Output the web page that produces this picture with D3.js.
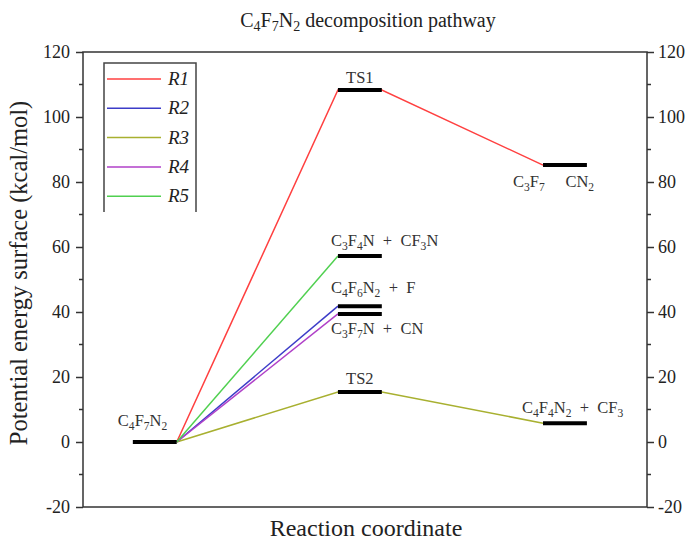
<!DOCTYPE html>
<html><head><meta charset="utf-8">
<script src="https://cdn.jsdelivr.net/npm/d3@7"></script>
<style>body{margin:0;background:#fff}svg{display:block} text{font-family:"Liberation Serif";}</style>
</head><body>
<script>
// ---- data ----
const levelNames = ["C_4F_7N_2", "TS1", "C_3F_7     CN_2", "C_3F_4N  +  CF_3N", "C_4F_6N_2  +  F", "C_3F_7N  +  CN", "TS2", "C_4F_4N_2  +  CF_3"];
const levelStage = [1, 2, 3, 2, 2, 2, 2, 3];
const levelEnergy = [0, 108.3, 85.2, 57.2, 41.8, 39.4, 15.4, 5.8];
const seriesNames = ["R1", "R2", "R3", "R4", "R5"];
const seriesPaths = [[0, 1, 2], [0, 4], [0, 6, 7], [0, 5], [0, 3]];
const seriesColors = ["#ff4040", "#3c3cc8", "#a8b030", "#b040c8", "#50d050"];
const yTicks = [-20, 0, 20, 40, 60, 80, 100, 120];

// ---- layout ----
const W = 693, H = 545;
const m = {left: 83, right: 647, top: 52, bottom: 507};
const x = d3.scaleLinear().domain([0.65, 3.4]).range([m.left, m.right]);
const y = d3.scaleLinear().domain([-20, 120]).range([m.bottom, m.top]);
const halfW = 0.107;
const serif = '"Liberation Serif"';

const svg = d3.select("body").append("svg").attr("width", W).attr("height", H);

function richText(sel, s) {
  const parts = s.split(/(_\d)/);
  parts.forEach(p => {
    if (!p) return;
    if (p[0] === "_") sel.append("tspan").attr("baseline-shift", "-30%").attr("font-size", "0.7em").text(p.slice(1));
    else sel.append("tspan").style("white-space", "pre").text(p);
  });
}

// axes
const axisColor = "#333";
const minor = d3.range(-20, 121, 10).filter(v => v % 20 !== 0);
const fmt = d => String(d);
const leftAxis = d3.axisLeft(y).tickValues(yTicks).tickSize(7).tickPadding(6).tickFormat(fmt);
const rightAxis = d3.axisRight(y).tickValues(yTicks).tickSize(7).tickPadding(4).tickFormat(fmt);
function styleAxis(g) {
  g.attr("font-family", null);
  g.select(".domain").remove();
  g.selectAll("line").attr("stroke", axisColor).attr("stroke-width", 1.5);
  g.selectAll("text").style("font-family", serif).style("font-size", "18px").attr("fill", "#222");
}
const gl = svg.append("g").attr("transform", `translate(${m.left},0)`).call(leftAxis).call(styleAxis);
const gr = svg.append("g").attr("transform", `translate(${m.right},0)`).call(rightAxis).call(styleAxis);
gl.selectAll(".minor").data(minor).enter().append("line").attr("x1", -4).attr("x2", 0)
  .attr("y1", d => y(d)).attr("y2", d => y(d)).attr("stroke", axisColor).attr("stroke-width", 1.5);
gr.selectAll(".minor").data(minor).enter().append("line").attr("x1", 0).attr("x2", 4)
  .attr("y1", d => y(d)).attr("y2", d => y(d)).attr("stroke", axisColor).attr("stroke-width", 1.5);
svg.append("rect").attr("x", m.left).attr("y", m.top).attr("width", m.right - m.left)
  .attr("height", m.bottom - m.top).attr("fill", "none").attr("stroke", axisColor).attr("stroke-width", 1.5);

// connecting lines
seriesPaths.forEach((path, si) => {
  const pts = [];
  path.forEach((li, k) => {
    const s = levelStage[li], e = levelEnergy[li];
    if (k > 0) pts.push([x(s - halfW), y(e)]);
    if (k < path.length - 1) pts.push([x(s + halfW), y(e)]);
  });
  svg.append("path").attr("d", d3.line()(pts)).attr("fill", "none")
    .attr("stroke", seriesColors[si]).attr("stroke-width", 1.5);
});

// level bars
svg.selectAll(".lvl").data(levelNames).enter().append("line")
  .attr("x1", (d, i) => x(levelStage[i] - halfW)).attr("x2", (d, i) => x(levelStage[i] + halfW))
  .attr("y1", (d, i) => y(levelEnergy[i])).attr("y2", (d, i) => y(levelEnergy[i]))
  .attr("stroke", "#000").attr("stroke-width", 4);

// level labels: [dx from bar left, dy from bar, anchor]
const labelPlace = [[-15, -16, "start"], [null, -7, "middle"], [-30, 22, "start"], [-7, -10, "start"],
  [-7, -13, "start"], [-7, 20, "start"], [null, -8, "middle"], [-21, -10, "start"]];
levelNames.forEach((n, i) => {
  const [dx, dy, anchor] = labelPlace[i];
  const bx = dx === null ? x(levelStage[i]) : x(levelStage[i] - halfW) + dx;
  const t = svg.append("text").attr("x", bx).attr("y", y(levelEnergy[i]) + dy)
    .attr("text-anchor", anchor).style("font-size", "16.5px").attr("fill", "#333");
  richText(t, n);
});

// legend
const lg = svg.append("g");
lg.append("path").attr("d", "M104,212V63H196V212").attr("fill", "none").attr("stroke", "#444").attr("stroke-width", 1.5);
seriesNames.forEach((n, i) => {
  const ly = 79 + i * 29.3;
  lg.append("line").attr("x1", 107).attr("x2", 161).attr("y1", ly).attr("y2", ly)
    .attr("stroke", seriesColors[i]).attr("stroke-width", 1.5);
  lg.append("text").attr("x", 168).attr("y", ly + 6).style("font-size", "19px").style("font-style", "italic")
    .attr("fill", "#222").text(n);
});

// titles
const title = svg.append("text").attr("x", 368).attr("y", 27).attr("text-anchor", "middle")
  .style("font-size", "20px").attr("fill", "#222");
richText(title, "C_4F_7N_2 decomposition pathway");
svg.append("text").attr("x", 366).attr("y", 536).attr("text-anchor", "middle").style("font-size", "24px")
  .attr("fill", "#222").text("Reaction coordinate");
svg.append("text").attr("transform", "translate(27,273) rotate(-90)").attr("text-anchor", "middle")
  .style("font-size", "24.5px").attr("fill", "#222").text("Potential energy surface (kcal/mol)");
</script>
</body></html>
